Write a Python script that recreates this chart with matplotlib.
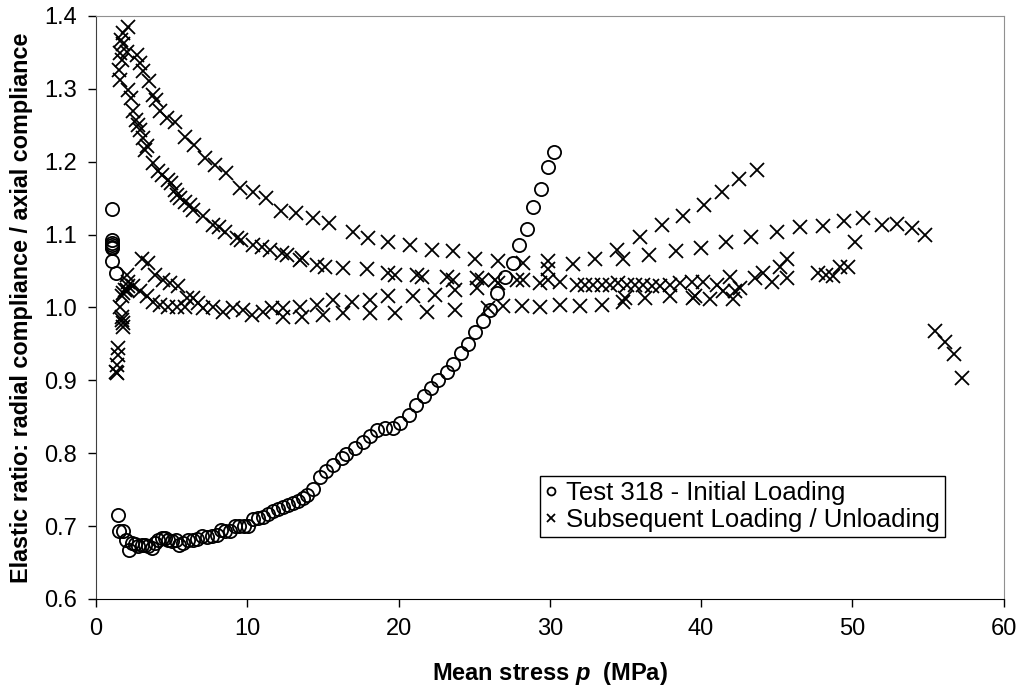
import matplotlib.pyplot as plt

plt.rcParams['font.family'] = ['Liberation Sans', 'DejaVu Sans']
plt.rcParams['mathtext.fontset'] = 'custom'
plt.rcParams['mathtext.it'] = 'Liberation Sans:italic:bold'
plt.rcParams['mathtext.rm'] = 'Liberation Sans:bold'

# Test 318 - initial loading (circles)
init_x = [1.04, 1.04, 1.04, 1.07, 1.04, 1.07, 1.07, 1.32,
          1.47, 1.54, 1.80, 1.98, 2.20, 2.36, 2.58, 2.80, 3.02, 3.24, 3.46, 3.68,
          3.90, 4.12, 4.34, 4.56, 4.78, 5.00, 5.29, 5.51, 5.77, 6.10, 6.43, 6.70,
          6.98, 7.31, 7.65, 7.98, 8.24, 8.53, 8.86, 9.19, 9.47, 9.78, 10.07, 10.40,
          10.73, 11.06, 11.39, 11.72, 12.05, 12.38, 12.71, 13.04, 13.37, 13.66,
          13.97, 14.32, 14.80, 15.20, 15.68, 16.24, 16.52, 17.10, 17.62, 18.10,
          18.60, 19.10, 19.65, 20.13, 20.70, 21.15, 21.68, 22.12, 22.62, 23.18,
          23.62, 24.10, 24.60, 25.05, 25.56, 26.04, 26.53, 27.03, 27.54, 27.98,
          28.47, 28.90, 29.39, 29.85, 30.29]
init_y = [1.135, 1.093, 1.089, 1.083, 1.086, 1.082, 1.063, 1.047,
          0.715, 0.693, 0.693, 0.681, 0.667, 0.677, 0.676, 0.672, 0.674, 0.674,
          0.672, 0.670, 0.677, 0.681, 0.683, 0.683, 0.681, 0.679, 0.681, 0.674,
          0.677, 0.681, 0.681, 0.682, 0.686, 0.685, 0.686, 0.688, 0.694, 0.693,
          0.693, 0.700, 0.700, 0.700, 0.700, 0.709, 0.711, 0.713, 0.717, 0.720,
          0.723, 0.726, 0.729, 0.732, 0.734, 0.738, 0.743, 0.751, 0.767, 0.775,
          0.784, 0.793, 0.799, 0.807, 0.815, 0.824, 0.832, 0.834, 0.834, 0.842,
          0.853, 0.866, 0.878, 0.890, 0.900, 0.911, 0.923, 0.938, 0.950, 0.966,
          0.982, 0.997, 1.020, 1.042, 1.061, 1.085, 1.108, 1.138, 1.162, 1.192,
          1.213]

# subsequent loading / unloading (crosses), outer branch
outer_x = [2.14, 2.69, 2.91, 3.13, 3.52, 3.75, 3.97, 4.23, 4.71, 5.22, 5.88,
           6.48, 7.20, 7.87, 8.59, 9.52, 10.40, 11.24, 12.20, 13.22, 14.32, 15.42,
           17.00, 18.00, 19.30, 20.75, 22.19, 23.62, 25.05, 26.59, 28.20, 29.90,
           29.90, 31.50, 32.98, 34.45, 35.96, 37.39, 38.82, 40.19, 41.36, 42.52,
           43.67]
outer_y = [1.385, 1.346, 1.335, 1.324, 1.310, 1.292, 1.285, 1.269, 1.260, 1.255,
           1.234, 1.223, 1.205, 1.196, 1.184, 1.164, 1.159, 1.150, 1.132, 1.130,
           1.122, 1.116, 1.104, 1.095, 1.090, 1.086, 1.079, 1.077, 1.067, 1.063,
           1.061, 1.063, 1.052, 1.060, 1.066, 1.079, 1.096, 1.113, 1.126, 1.141,
           1.158, 1.176, 1.188]

# inner branch
inner_x = [1.76, 1.63, 1.80, 1.59, 2.03, 1.70, 1.54, 1.59, 2.14, 2.29, 2.47,
           2.64, 2.80, 2.91, 3.13, 3.35, 3.24, 3.79, 4.12, 4.34, 4.78, 4.95, 5.22,
           5.33, 5.55, 5.88, 6.20, 6.43, 7.05, 7.71, 8.10, 8.53, 9.30, 9.60, 10.40,
           11.00, 11.50, 12.30, 12.60, 13.48, 13.60, 14.58, 15.14, 16.35, 17.89,
           19.32, 19.76, 21.20, 21.53, 23.18, 23.62, 25.16, 25.49, 26.59]
inner_y = [1.376, 1.367, 1.362, 1.349, 1.351, 1.340, 1.326, 1.312, 1.298, 1.287,
           1.269, 1.257, 1.250, 1.244, 1.232, 1.221, 1.216, 1.198, 1.187, 1.182,
           1.175, 1.170, 1.161, 1.154, 1.150, 1.145, 1.140, 1.134, 1.125, 1.113,
           1.110, 1.104, 1.095, 1.092, 1.086, 1.083, 1.079, 1.074, 1.072, 1.065,
           1.068, 1.058, 1.056, 1.054, 1.052, 1.047, 1.045, 1.045, 1.042, 1.042,
           1.038, 1.040, 1.038, 1.033]

# low start (dip near p = 1.5 MPa) and short branch at 1.06
dip_x = [1.47, 1.47, 1.37, 1.37, 1.32, 1.70, 1.80, 1.59, 1.70, 1.80, 1.80, 2.03,
         1.70, 1.92, 2.14, 2.03, 3.02, 3.46, 3.90, 4.45, 4.89, 5.44, 6.00, 6.43,
         6.76]
dip_y = [0.944, 0.935, 0.921, 0.910, 0.912, 0.983, 0.973, 1.001, 0.987, 0.978,
         1.020, 1.024, 1.015, 1.024, 1.029, 1.045, 1.067, 1.061, 1.045, 1.038,
         1.033, 1.029, 1.013, 1.013, 1.006]

# band near 1.0
low_x = [2.14, 2.47, 2.91, 3.35, 3.79, 4.23, 4.78, 5.33, 5.88, 7.09, 7.75, 8.42,
         9.07, 9.74, 10.29, 11.06, 11.61, 12.38, 12.38, 13.48, 13.60, 14.58, 15.02,
         15.68, 16.34, 16.90, 18.10, 18.10, 19.32, 19.76, 20.97, 21.86, 22.40,
         23.73, 23.73, 25.16, 25.93, 26.92, 28.14, 29.35, 30.67, 31.99, 33.42,
         34.85, 34.96, 36.28, 37.94, 39.48, 39.60, 40.60, 42.10]
low_y = [1.035, 1.029, 1.022, 1.015, 1.008, 1.003, 1.001, 1.001, 1.001, 0.999,
         1.001, 0.994, 0.999, 0.997, 0.990, 0.994, 0.999, 0.999, 0.987, 1.001,
         0.987, 1.003, 0.990, 1.010, 0.992, 1.008, 1.010, 0.992, 1.015, 0.992,
         1.015, 0.994, 1.017, 1.024, 0.997, 1.026, 0.999, 1.002, 1.002, 1.001,
         1.003, 1.002, 1.003, 1.008, 1.013, 1.013, 1.015, 1.013, 1.015, 1.012,
         1.012]

# band near 1.03
mid_x = [26.37, 27.80, 28.24, 29.35, 29.90, 30.67, 31.77, 32.32, 32.87, 33.42,
         33.97, 34.52, 35.07, 35.62, 36.17, 36.73, 37.28, 37.94, 38.60, 39.37,
         40.14, 41.02, 41.46, 41.90, 42.23, 42.56, 43.56, 44.06, 44.66, 45.21,
         45.65, 45.71, 47.74, 48.29, 48.73, 49.17, 49.72]
mid_y = [1.038, 1.038, 1.038, 1.033, 1.038, 1.035, 1.031, 1.031, 1.031, 1.031,
         1.031, 1.033, 1.031, 1.031, 1.031, 1.029, 1.029, 1.031, 1.033, 1.035,
         1.035, 1.031, 1.022, 1.042, 1.022, 1.026, 1.040, 1.047, 1.035, 1.056,
         1.040, 1.067, 1.047, 1.045, 1.043, 1.056, 1.056]

# right branch up to 55 MPa and final drop
right_x = [34.85, 36.57, 38.33, 39.98, 41.65, 43.33, 45.03, 46.57, 48.07, 49.44,
           50.67, 50.16, 51.99, 52.98, 53.95, 54.79, 55.45, 56.11, 56.70, 57.26]
right_y = [1.067, 1.072, 1.077, 1.081, 1.090, 1.097, 1.103, 1.110, 1.111, 1.119,
           1.122, 1.090, 1.113, 1.115, 1.109, 1.100, 0.967, 0.953, 0.936, 0.903]

cross_x = outer_x + inner_x + dip_x + low_x + mid_x + right_x
cross_y = outer_y + inner_y + dip_y + low_y + mid_y + right_y

fig = plt.figure(figsize=(10.21, 6.90), dpi=100)
ax = fig.add_axes([0.094, 0.132, 0.889, 0.845])

ax.plot(init_x, init_y, 'o', ms=9.5, mfc='none', mec='black', mew=1.3,
        label='Test 318 - Initial Loading')
ax.plot(cross_x, cross_y, 'x', ms=10, color='black', mew=1.3,
        label='Subsequent Loading / Unloading')

ax.set_xlim(0, 60)
ax.set_ylim(0.6, 1.4)
ax.set_xticks(range(0, 61, 10))
ax.set_yticks([0.6, 0.7, 0.8, 0.9, 1.0, 1.1, 1.2, 1.3, 1.4])
ax.set_yticklabels(['0.6', '0.7', '0.8', '0.9', '1.0', '1.1', '1.2', '1.3', '1.4'])
ax.tick_params(direction='out', length=6, width=1, labelsize=17, pad=8)

ax.spines['left'].set_color('#404040')
ax.spines['bottom'].set_color('black')
ax.spines['top'].set_color('#909090')
ax.spines['right'].set_color('#909090')

ax.set_xlabel(r'Mean stress $p$  (MPa)', fontsize=17, fontweight='bold', labelpad=14)
ax.set_ylabel('Elastic ratio: radial compliance / axial compliance',
              fontsize=16.8, fontweight='bold', labelpad=8)

leg = ax.legend(loc='lower left', bbox_to_anchor=(0.489, 0.106), fontsize=18.5,
                markerscale=0.6, handlelength=0.5, handletextpad=0.3,
                fancybox=False, edgecolor='black', framealpha=1,
                borderpad=0.2, labelspacing=0.1, borderaxespad=0)
leg.get_frame().set_linewidth(1)

fig.savefig('out.png', dpi=100)
